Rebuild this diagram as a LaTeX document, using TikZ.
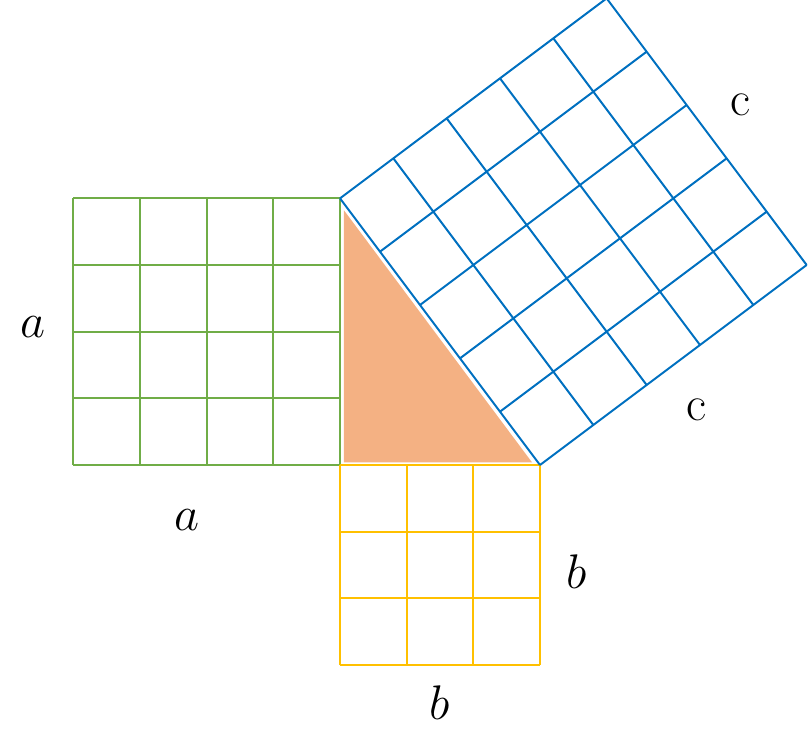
\documentclass[tikz,border=0pt]{standalone}
\usepackage{tikz}
\usetikzlibrary{calc}
\definecolor{leafgreen}{HTML}{70AD47}
\definecolor{sunyellow}{HTML}{FFC000}
\definecolor{seablue}{HTML}{0070C0}
\definecolor{salmon}{HTML}{F4B183}

\tikzset{
    gridline/.style={line width=0.85pt},
    sidelabel/.style={font=\fontsize{21}{24}\selectfont, text=black}
}

\begin{document}
\begin{tikzpicture}

\useasboundingbox (-5.1,-4.05) rectangle (7.02,6.975);

% --- CORNERS OF THE TRIANGLE ---
\coordinate (R) at (0,0);
\coordinate (A) at (0,4);
\coordinate (B) at (3,0);

% --- TRIANGLE ---
\fill[salmon] ($(R)+(0.06,0.04)$) -- ($(A)+(0.06,-0.18)$) -- ($(B)+(-0.12,0.04)$) -- cycle;

% --- SQUARE ON a ---
\draw[gridline, leafgreen] (-4,0) grid (0,4);

% --- SQUARE ON b ---
\draw[gridline, sunyellow] (0,-3) grid (3,0);

% --- SQUARE ON c ---
\pgfmathsetmacro{\tilt}{atan2(3,4)}
\begin{scope}[shift={(B)}, rotate=\tilt]
    \draw[gridline, seablue] (0,0) grid (5,5);
\end{scope}

% --- LABELS ---
\node[sidelabel] (aleft) at (-4.6,2.07) {$a$};
\node[sidelabel] (abelow) at (-2.3,-0.83) {$a$};
\node[sidelabel] (bright) at (3.55,-1.6) {$b$};
\node[sidelabel] (bbelow) at (1.5,-3.57) {$b$};
\node[sidelabel] (ctop) at (6.0,5.4) {c};
\node[sidelabel] (clow) at (5.35,0.83) {c};

\end{tikzpicture}
\end{document}
